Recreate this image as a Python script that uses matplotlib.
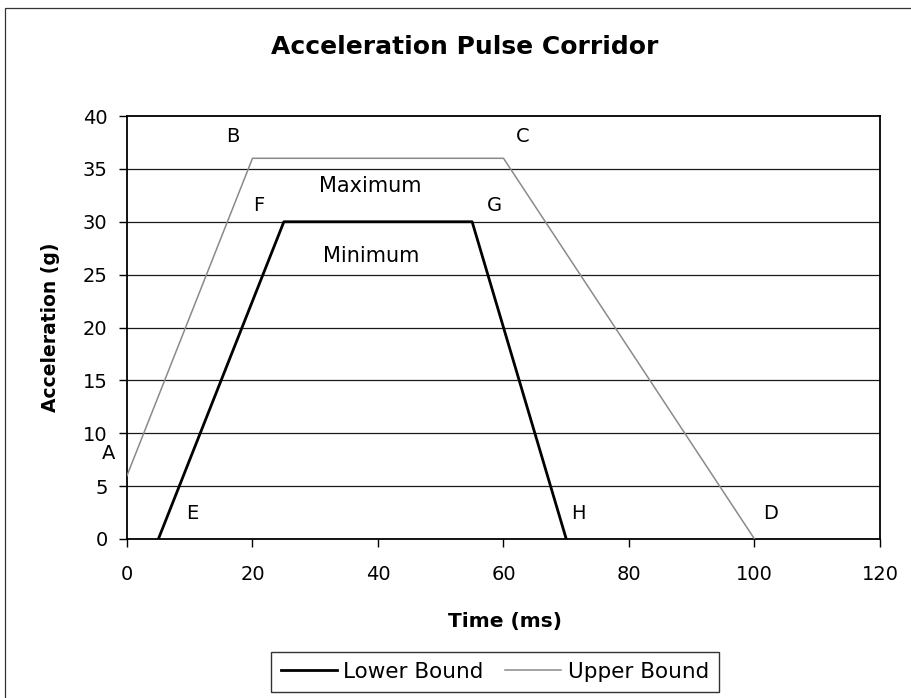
import matplotlib
matplotlib.use("Agg")
import matplotlib.pyplot as plt
from matplotlib.patches import Rectangle

## data
lower_t = [5, 25, 55, 70]
lower_a = [0, 30, 30, 0]
upper_t = [0, 20, 60, 100]
upper_a = [6, 36, 36, 0]

point_names = ['A', 'B', 'C', 'D', 'E', 'F', 'G', 'H']
point_x = [-3.0, 16.9, 63.0, 102.6, 10.4, 21.0, 58.6, 72.0]
point_y = [8.1, 38.1, 38.1, 2.4, 2.4, 31.5, 31.5, 2.4]

region_names = ['Maximum', 'Minimum']
region_x = [38.7, 38.9]
region_y = [33.4, 26.8]

x_ticks = [0, 20, 40, 60, 80, 100, 120]
y_ticks = [0, 5, 10, 15, 20, 25, 30, 35, 40]

plt.rcParams['font.family'] = ['DejaVu Sans']

fig = plt.figure(figsize=(9.11, 6.98), dpi=100)
ax = fig.add_axes([127/911, 1-539/698, 753/911, 423/698])

# chart area frame (left/top edges visible)
fig.patches.append(Rectangle((5/911, -0.1), 1.2, 1-8/698+0.1, transform=fig.transFigure,
                             fill=False, edgecolor='#333333', linewidth=0.9))

for v in y_ticks[1:-1]:
	ax.axhline(v, color='#1a1a1a', linewidth=0.9, zorder=1)

ax.plot(lower_t, lower_a, color='black', linewidth=2.0, label='Lower Bound', zorder=3)
ax.plot(upper_t, upper_a, color='#8a8a8a', linewidth=1.1, label='Upper Bound', zorder=3)

for name, x, y in zip(point_names, point_x, point_y):
	ax.text(x, y, name, fontsize=14, ha='center', va='center', clip_on=False)
for name, x, y in zip(region_names, region_x, region_y):
	ax.text(x, y, name, fontsize=15, ha='center', va='center')

ax.set_xlim(0, 120)
ax.set_ylim(0, 40)
ax.set_xticks(x_ticks)
ax.set_yticks(y_ticks)
ax.tick_params(axis='x', direction='out', length=6, width=1, pad=13, labelsize=14)
ax.tick_params(axis='y', direction='out', length=6, width=1, pad=8, labelsize=14)
for s in ax.spines.values():
	s.set_linewidth(1.3)
	s.set_color('black')

ax.set_xlabel('Time (ms)', fontsize=14.5, fontweight='bold')
ax.set_ylabel('Acceleration (g)', fontsize=13.5, fontweight='bold')
ax.xaxis.set_label_coords(0.502, -0.172)
ax.yaxis.set_label_coords(-0.0896, 0.5)

fig.text(465/911, 1-47/698, 'Acceleration Pulse Corridor', fontsize=18, fontweight='bold',
         ha='center', va='center')

leg = fig.legend(loc='center', bbox_to_anchor=(495/911, 1-672/698), ncol=2, fontsize=15.5,
                 frameon=True, fancybox=False, edgecolor='black', handlelength=2.6,
                 handletextpad=0.3, columnspacing=1.0, borderpad=0.45)
leg.get_frame().set_linewidth(1.0)

fig.savefig('out.png', dpi=100)
